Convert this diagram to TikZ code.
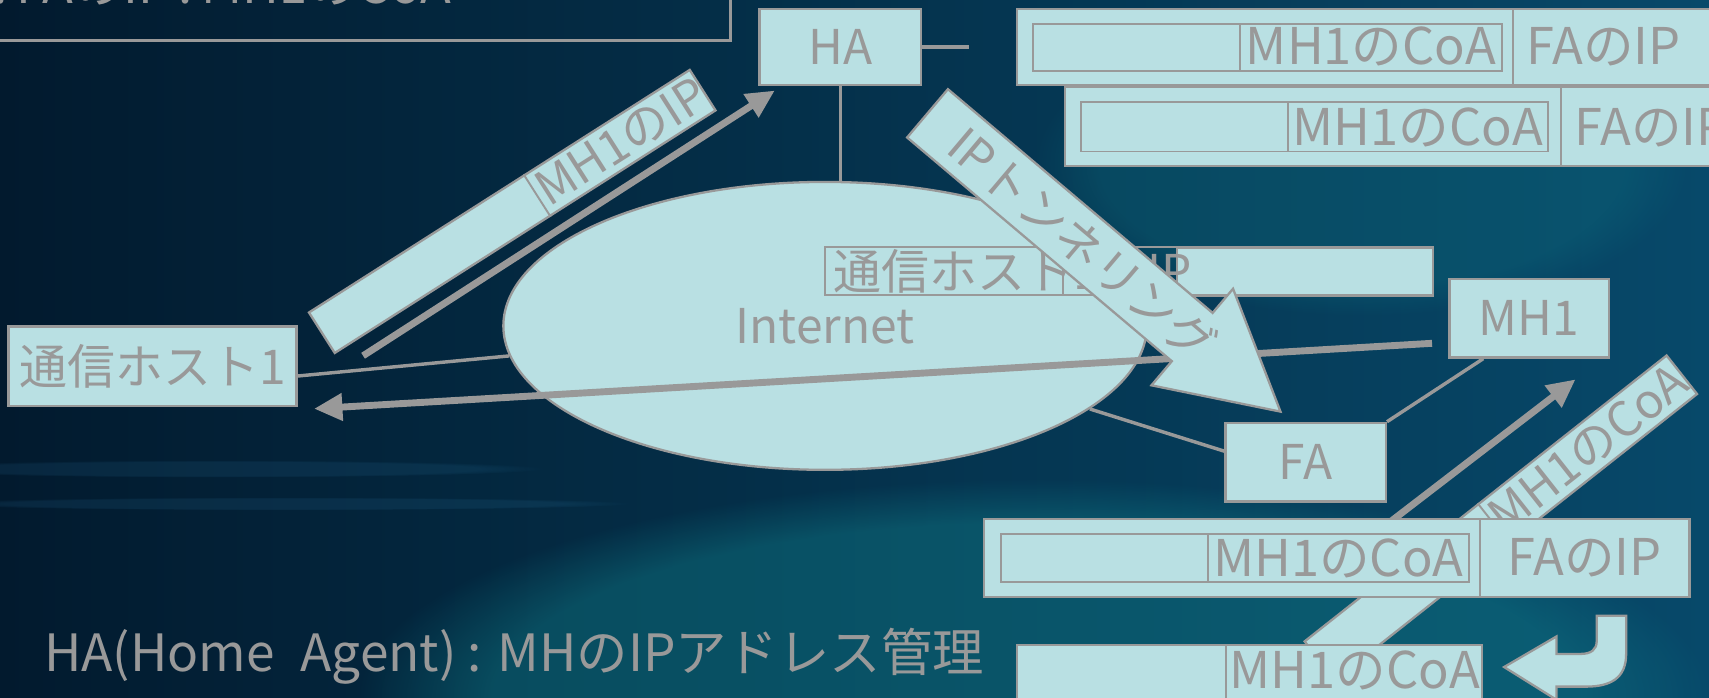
\documentclass[tikz,border=0pt]{standalone}
\usepackage{fontspec}
\setmainfont{Noto Sans CJK JP}
\usepackage{xcolor}
\usetikzlibrary{
	arrows.meta,positioning,calc,shapes.geometric,fadings
}
\definecolor{boxc}{HTML}{B9E0E3}
\definecolor{linec}{HTML}{999999}
\definecolor{bgl}{HTML}{021A2E}
\definecolor{bgr}{HTML}{07496A}
\definecolor{glow}{HTML}{0F7A86}
\definecolor{streak}{HTML}{3FA0D8}
\newcommand{\lab}{\fontsize{12.5}{14}\selectfont}
\newcommand{\pktlab}{\fontsize{13.2}{15}\selectfont}
\newcommand{\biglab}{\fontsize{13.4}{16}\selectfont}

\begin{document}
\begin{tikzpicture}[x=0.01cm,y=-0.01cm,
	box/.style={draw=linec,fill=boxc,line width=0.6pt,inner sep=0pt,text=linec,font=\lab},
	pkt/.style={draw=linec,fill=boxc,line width=0.6pt},
	thin/.style={draw=linec,line width=0.5pt},
	link/.style={draw=linec,line width=0.9pt},
	flow/.style={draw=linec,line width=1.8pt,-{Triangle[length=2.6mm,width=2.4mm]}},
	lbl/.style={text=linec,font=\lab,inner sep=0pt}]
	\useasboundingbox (0,0) rectangle (1568,640);
	\clip (0,0) rectangle (1568,640);
	% background
	\shade[left color=bgl,right color=bgr] (0,0) rectangle (1568,640);
	\fill[glow,path fading=circle with fuzzy edge 20 percent,fill opacity=0.45] (950,640) ellipse (620 and 200);
	\fill[glow,path fading=circle with fuzzy edge 20 percent,fill opacity=0.25] (1250,150) ellipse (300 and 140);
	\fill[streak,path fading=circle with fuzzy edge 20 percent,fill opacity=0.10] (200,430) ellipse (300 and 8);
	\fill[streak,path fading=circle with fuzzy edge 20 percent,fill opacity=0.10] (260,462) ellipse (320 and 6);
	%
	\draw[linec,line width=0.9pt] (-20,-60) rectangle (670,37);
	\node[lbl,font=\pktlab,anchor=base east] (note) at (415,3) {MH1\,:\,FAのIP\,:\,MH1のCoA};
	%
	\node[box,minimum width=1.48cm,minimum height=0.70cm] (ha) at (771,43) {HA};
	\node[box,ellipse,minimum width=5.9cm,minimum height=2.64cm] (net) at (757,299) {Internet};
	\node[box,minimum width=2.64cm,minimum height=0.73cm] (ch) at (140,336) {通信ホスト1};
	\node[box,minimum width=1.46cm,minimum height=0.72cm] (mh) at (1403,292) {MH1};
	\node[box,minimum width=1.47cm,minimum height=0.72cm] (fa) at (1198,424) {FA};
	%
	\draw[link] (ha.south) -- (ha.south |- net.north);
	\draw[link] (ha.east) -- ++(43,0);
	\draw[link] ([yshift=-0.09cm]ch.east) -- (net);
	\draw[link] ([yshift=0.1cm]fa.west) -- (net);
	\draw[link] (fa.north east) -- ($(mh.south west)+(32,0)$);
	%
	\draw[pkt] (933,8) rectangle (1600,78);
	\draw[thin] (1388,8) -- (1388,78);
	\draw[thin] (948,22) rectangle (1378,65) (1138,22) -- (1138,65);
	\node[lbl,font=\pktlab] (coa1) at (1258,43) {MH1のCoA};
	\node[lbl,font=\pktlab,anchor=west] (fip1) at (1400,43) {FAのIP};
	\draw[pkt] (977,80) rectangle (1600,152);
	\draw[thin] (1432,80) -- (1432,152);
	\draw[thin] (992,94) rectangle (1420,139) (1182,94) -- (1182,139);
	\node[lbl,font=\pktlab] (coa2) at (1301,117) {MH1のCoA};
	\node[lbl,font=\pktlab,anchor=west] (fip2) at (1444,117) {FAのIP};
	%
	\node[box,rotate=32.5,minimum width=4.14cm,minimum height=0.44cm] (ipbox) at (470,194) {};
	\draw[thin] ($(ipbox.south west)!0.565!(ipbox.south east)$) -- ($(ipbox.north west)!0.565!(ipbox.north east)$);
	\node[lbl,rotate=32.5] (iptxt) at ($(ipbox.west)!0.785!(ipbox.east)$) {MH1のIP};
	\draw[flow] ($(ch.north east)+(60,28)$) -- ($(ha.south west)+(15,4)$);
	%
	\draw[pkt] (1080,227) rectangle (1315,271);
	\draw[thin] (757,227) rectangle (1080,271) (975,227) -- (975,271);
	\node[lbl,anchor=west] (chip) at (764,249) {通信ホスト1のIP};
	\draw[flow] ($(mh.west)+(-15,23)$) -- ($(ch.east)+(15,39)$);
	%
	\begin{scope}[shift={(851,104)},rotate=-40.2]
		\draw[pkt] (0,-29) -- (318,-29) -- (318,-58) -- (424,0) -- (318,58) -- (318,29) -- (0,29) -- cycle;
		\node[lbl,rotate=-40.2] (tun) at (186,0) {IPトンネリング};
	\end{scope}
	%
	\draw[flow] ($(fa.south east)+(0,20)$) -- ++(173,-133);
	\node[box,rotate=38.3,minimum width=4.23cm,minimum height=0.45cm] (coabox) at (1377,475) {};
	\draw[thin] ($(coabox.south west)!0.48!(coabox.south east)$) -- ($(coabox.north west)!0.48!(coabox.north east)$);
	\node[lbl,rotate=38.3] (coatxt) at ($(coabox.west)!0.74!(coabox.east)$) {MH1のCoA};
	%
	\draw[pkt] (903,476) rectangle (1550,548);
	\draw[thin] (1358,476) -- (1358,548);
	\draw[thin] (918,490) rectangle (1348,534) (1108,490) -- (1108,534);
	\node[lbl,font=\pktlab] (coa3) at (1228,512) {MH1のCoA};
	\node[lbl,font=\pktlab] (fip3) at (1454,512) {FAのIP};
	%
	\draw[pkt] (933,592) rectangle (1360,660);
	\draw[thin] (1125,592) -- (1125,660);
	\node[lbl,font=\pktlab] (coa4) at (1243,615) {MH1のCoA};
	\draw[pkt] (1465,565) -- (1492,565) -- (1492,600) .. controls (1492,622) and (1478,630) .. (1455,630)
		-- (1428,630) -- (1428,642) -- (1380,612) -- (1428,584) -- (1428,600) -- (1450,600)
		.. controls (1460,600) and (1465,596) .. (1465,588) -- cycle;
	%
	\node[lbl,font=\biglab,anchor=west] (legend) at (40,602) {HA(Home\enspace Agent) : MHのIPアドレス管理};
\end{tikzpicture}
\end{document}
